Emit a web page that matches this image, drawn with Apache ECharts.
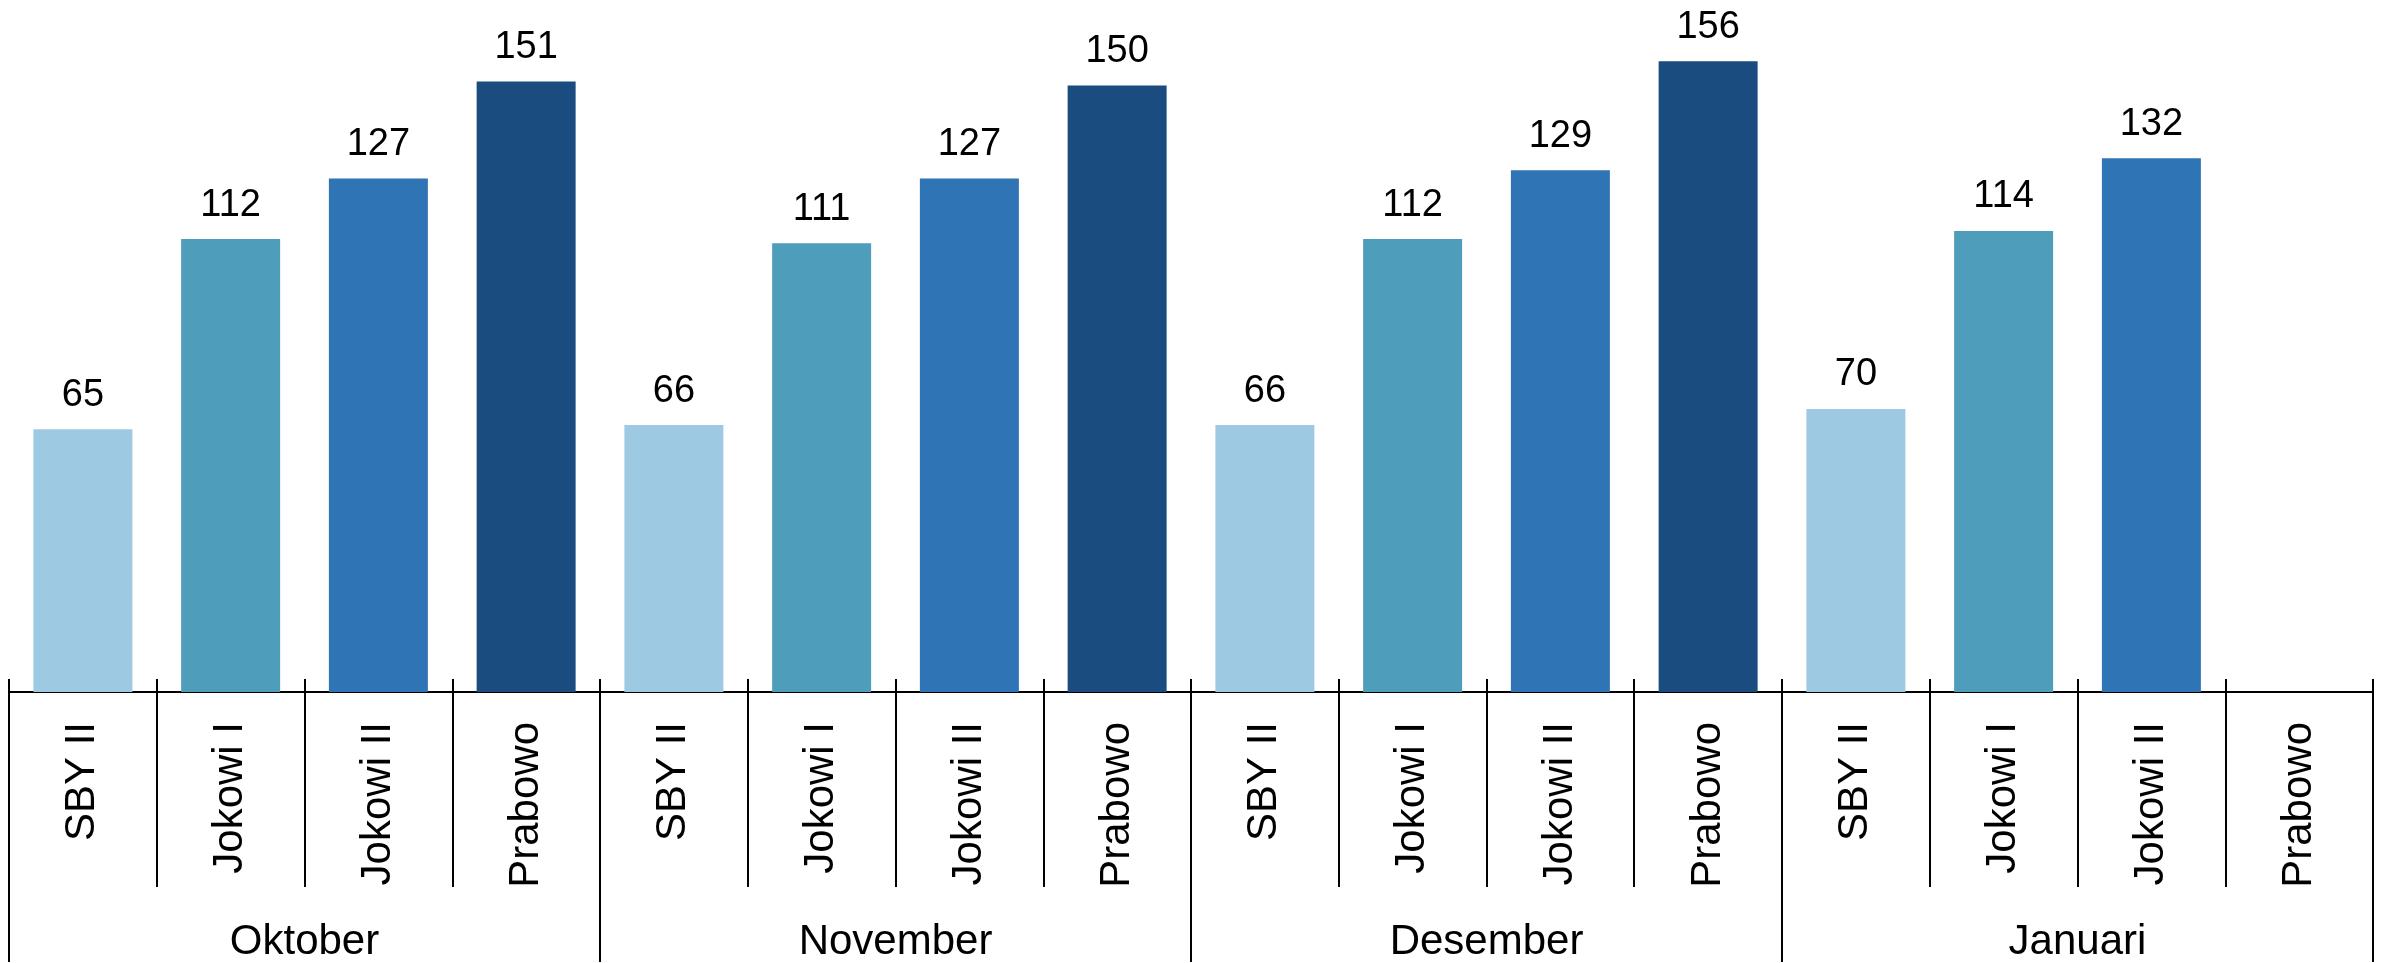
<!DOCTYPE html>
<html>
<head>
<meta charset="utf-8">
<script src="https://cdn.jsdelivr.net/npm/echarts@6/dist/echarts.min.js"></script>
<style>
html,body{margin:0;padding:0;background:#fff;}
#chart{width:2384px;height:963px;}
</style>
</head>
<body>
<div id="chart"></div>
<script>
const months = ['Oktober', 'November', 'Desember', 'Januari'];
const presidents = ['SBY II', 'Jokowi I', 'Jokowi II', 'Prabowo'];
const sbyII = [65, 66, 66, 70];
const jokowiI = [112, 111, 112, 114];
const jokowiII = [127, 127, 129, 132];
const prabowo = [151, 150, 156, null];
const colors = ['#9DCAE2', '#4E9DBA', '#2F74B5', '#1B4C80'];

const seriesByPresident = [sbyII, jokowiI, jokowiII, prabowo];
const categories = [];
const barData = [];
months.forEach((m, mi) => {
  presidents.forEach((p, pi) => {
    categories.push(p);
    const v = seriesByPresident[pi][mi];
    barData.push({ value: v == null ? '-' : v, itemStyle: { color: colors[pi] } });
  });
});

const font = '"Liberation Sans", Arial, sans-serif';
const chart = echarts.init(document.getElementById('chart'));
chart.setOption({
  animation: false,
  grid: { left: 9, right: 11, top: 45, bottom: 270 },
  xAxis: [
    {
      type: 'category', data: categories, position: 'bottom',
      axisLine: { show: true, lineStyle: { color: '#000', width: 2 } },
      axisTick: { show: true, inside: true, length: 13, lineStyle: { color: '#000', width: 2 } },
      axisLabel: { rotate: 90, margin: 30, fontSize: 42, color: '#000', fontFamily: font, interval: 0 }
    },
    {
      type: 'category', data: categories, position: 'bottom',
      axisLine: { show: false },
      axisTick: { show: true, length: 195, lineStyle: { color: '#000', width: 2 } },
      axisLabel: { show: false }
    },
    {
      type: 'category', data: months, position: 'bottom',
      axisLine: { show: false },
      axisTick: { show: true, length: 270, lineStyle: { color: '#000', width: 2 } },
      axisLabel: { margin: 229, fontSize: 42, color: '#000', fontFamily: font, interval: 0 }
    }
  ],
  yAxis: { type: 'value', min: 0, max: 160, show: false, splitLine: { show: false } },
  series: [{
    type: 'bar', xAxisIndex: 0, data: barData, barWidth: '67%',
    label: { show: true, position: 'top', distance: 15, fontSize: 38, color: '#000', fontFamily: font }
  }]
});
</script>
</body>
</html>
